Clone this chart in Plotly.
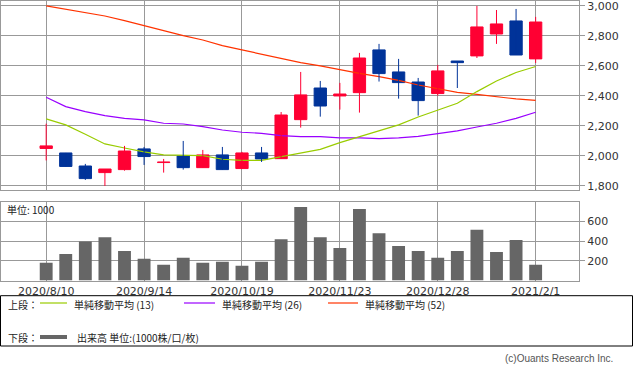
import plotly.graph_objects as go
import pandas as pd

# ---- data ----
weeks = pd.date_range("2020-08-10", periods=26, freq="7D").strftime("%Y-%m-%d").tolist()
opens = [2050, 2020, 1933, 1889, 1909, 2047, 1956, 2000, 1922, 2007, 1916, 2020, 1982,
         2242, 2453, 2400, 2422, 2707, 2560, 2493, 2416, 2633, 2667, 2813, 2900, 2647]
highs = [2215, 2020, 1947, 1913, 2067, 2060, 1980, 2100, 2040, 2060, 2027, 2060, 2293,
         2560, 2500, 2487, 2687, 2747, 2647, 2520, 2607, 2633, 3000, 2973, 2980, 2927]
lows = [1970, 1930, 1840, 1800, 1902, 1940, 1889, 1909, 1922, 1909, 1916, 1960, 1982,
        2189, 2262, 2309, 2289, 2496, 2382, 2269, 2402, 2453, 2653, 2747, 2673, 2620]
closes = [2067, 1930, 1849, 1913, 2033, 1996, 1960, 1922, 2007, 1909, 2020, 1980, 2273,
          2407, 2333, 2413, 2653, 2549, 2489, 2369, 2567, 2622, 2860, 2880, 2673, 2893]
ma13 = [2247, 2207, 2145, 2080, 2053, 2027, 2007, 2002, 2002, 1978, 1971, 1971, 1996,
        2018, 2044, 2089, 2129, 2169, 2207, 2260, 2307, 2351, 2429, 2500, 2556, 2596]
ma26 = [2391, 2329, 2296, 2269, 2251, 2240, 2218, 2213, 2196, 2173, 2158, 2151, 2136,
        2129, 2129, 2120, 2120, 2116, 2120, 2131, 2149, 2167, 2193, 2218, 2251, 2291]
ma52 = [3000, 2978, 2956, 2933, 2902, 2867, 2836, 2802, 2773, 2736, 2707, 2678, 2649,
        2622, 2600, 2573, 2551, 2529, 2504, 2473, 2451, 2424, 2411, 2396, 2380, 2371]
volume = [180, 270, 395, 440, 300, 220, 160, 230, 180, 190, 150, 190, 420,
          745, 440, 330, 725, 480, 350, 300, 230, 300, 515, 290, 410, 160]

tick_dates = ["2020-08-10", "2020-09-14", "2020-10-19", "2020-11-23", "2020-12-28", "2021-02-01"]
tick_text = ["2020/8/10", "2020/9/14", "2020/10/19", "2020/11/23", "2020/12/28", "2021/2/1"]
price_ticks = [1800, 2000, 2200, 2400, 2600, 2800, 3000]
vol_ticks = [200, 400, 600]

W, H = 633, 374
RED, BLUE = "#ff0033", "#003399"
GRID = "#999999"
TXT = "#333333"
DAY = 86400000

fig = go.Figure()

# MA lines (behind candles)
for vals, col in [(ma52, "#ff3300"), (ma26, "#9900ff"), (ma13, "#99cc00")]:
    fig.add_trace(go.Scatter(x=weeks, y=vals, mode="lines", line=dict(color=col, width=1.2),
                             showlegend=False, xaxis="x", yaxis="y", hoverinfo="skip"))

# candles: wicks + bodies, split by direction
for up, col in [(True, RED), (False, BLUE)]:
    idx = [i for i in range(len(weeks)) if (closes[i] >= opens[i]) == up]
    wx, wy = [], []
    for i in idx:
        wx += [weeks[i], weeks[i], None]
        wy += [lows[i], highs[i], None]
    fig.add_trace(go.Scatter(x=wx, y=wy, mode="lines", line=dict(color=col, width=1),
                             showlegend=False, xaxis="x", yaxis="y", hoverinfo="skip"))
    fig.add_trace(go.Bar(x=[weeks[i] for i in idx],
                         base=[min(opens[i], closes[i]) for i in idx],
                         y=[abs(closes[i] - opens[i]) for i in idx],
                         width=4.4 * DAY,
                         marker=dict(color=col, line=dict(color=col, width=1)),
                         showlegend=False, xaxis="x", yaxis="y"))

fig.add_trace(go.Bar(x=weeks, y=volume, marker=dict(color="#666666", line=dict(width=0)),
                     width=4.6 * DAY, showlegend=False, xaxis="x2", yaxis="y2"))

xr = ["2020-07-24 16:00", "2021-02-16 12:00"]
xdom = [0.5 / W, 579 / W]
common_x = dict(range=xr, type="date", tickvals=tick_dates, ticktext=tick_text,
                showgrid=True, gridcolor=GRID, gridwidth=1, showline=True, mirror=True,
                linecolor=GRID, linewidth=1, zeroline=False, domain=xdom,
                automargin=False, fixedrange=True, ticklabeloverflow="allow")

fig.update_layout(
    width=W, height=H, margin=dict(l=0, r=0, t=0, b=0, autoexpand=False),
    paper_bgcolor="white", plot_bgcolor="white",
    font=dict(family="DejaVu Sans", size=11, color=TXT),
    barmode="overlay",
    xaxis=dict(**common_x, anchor="y", showticklabels=False, ticks=""),
    xaxis2=dict(**common_x, anchor="y2", showticklabels=True, ticks="",
                tickfont=dict(size=11, color=TXT)),
    yaxis=dict(domain=[1 - 190 / H, 1 - 0.7 / H], range=[1773, 3035], side="right",
               tickvals=price_ticks, tickformat=",", showgrid=True, gridcolor=GRID,
               showline=True, mirror=True, linecolor=GRID, zeroline=False,
               ticks="outside", ticklen=5, tickcolor=GRID, tickfont=dict(size=11, color=TXT),
               anchor="x", automargin=False, fixedrange=True, ticklabeloverflow="allow"),
    yaxis2=dict(domain=[1 - 280.5 / H, 1 - 201.7 / H], range=[0, 800], side="right",
                tickvals=vol_ticks, showgrid=True, gridcolor=GRID,
                showline=True, mirror=True, linecolor=GRID, zeroline=False,
                ticks="outside", ticklen=5, tickcolor=GRID, tickfont=dict(size=11, color=TXT),
                anchor="x2", automargin=False, fixedrange=True, ticklabeloverflow="allow"),
)

def py(px):
    return 1 - px / H

def pxx(px):
    return px / W

CJK = "Noto Sans CJK JP"
ROW1 = 304.5
ROW2 = 337
shapes = [
    dict(type="rect", xref="paper", yref="paper", x0=pxx(0.5), x1=pxx(632.5),
         y0=py(346), y1=py(295.7), line=dict(color="black", width=1)),
]
legend_items = [
    (40, 67, "#99cc00", "単純移動平均 (13)"),
    (184, 215, "#9900ff", "単純移動平均 (26)"),
    (328, 358, "#ff3300", "単純移動平均 (52)"),
]
annotations = [
    dict(text="単位: 1000", x=pxx(5), y=py(209), xref="paper", yref="paper",
         xanchor="left", yanchor="middle", showarrow=False, font=dict(family=CJK, size=10, color="#222")),
    dict(text="上段：", x=pxx(6), y=py(ROW1), xref="paper", yref="paper",
         xanchor="left", yanchor="middle", showarrow=False, font=dict(family=CJK, size=10, color="#222")),
    dict(text="下段：", x=pxx(6), y=py(ROW2), xref="paper", yref="paper",
         xanchor="left", yanchor="middle", showarrow=False, font=dict(family=CJK, size=10, color="#222")),
    dict(text="出来高 単位:(1000株/口/枚)", x=pxx(75), y=py(ROW2), xref="paper", yref="paper",
         xanchor="left", yanchor="middle", showarrow=False, font=dict(family=CJK, size=10, color="#222")),
    dict(text="(c)Ouants Research Inc.", x=pxx(615), y=py(358), xref="paper", yref="paper",
         xanchor="right", yanchor="middle", showarrow=False, font=dict(family="Liberation Sans", size=10, color="#555")),
]
for x0, x1, col, label in legend_items:
    shapes.append(dict(type="line", xref="paper", yref="paper", x0=pxx(x0), x1=pxx(x1),
                       y0=py(303), y1=py(303), line=dict(color=col, width=1.2)))
    annotations.append(dict(text=label, x=pxx(x1 + 5), y=py(ROW1), xref="paper", yref="paper",
                            xanchor="left", yanchor="middle", showarrow=False,
                            font=dict(family=CJK, size=10, color="#222")))
shapes.append(dict(type="line", xref="paper", yref="paper", x0=pxx(40), x1=pxx(67),
                   y0=py(ROW2), y1=py(ROW2), line=dict(color="#666666", width=4)))
fig.update_layout(shapes=shapes, annotations=annotations)

fig.write_html(
    "out.html",
    config={"displayModeBar": False, "responsive": False},
    post_script="document.body.style.margin='0';document.body.style.overflow='hidden';",
)
